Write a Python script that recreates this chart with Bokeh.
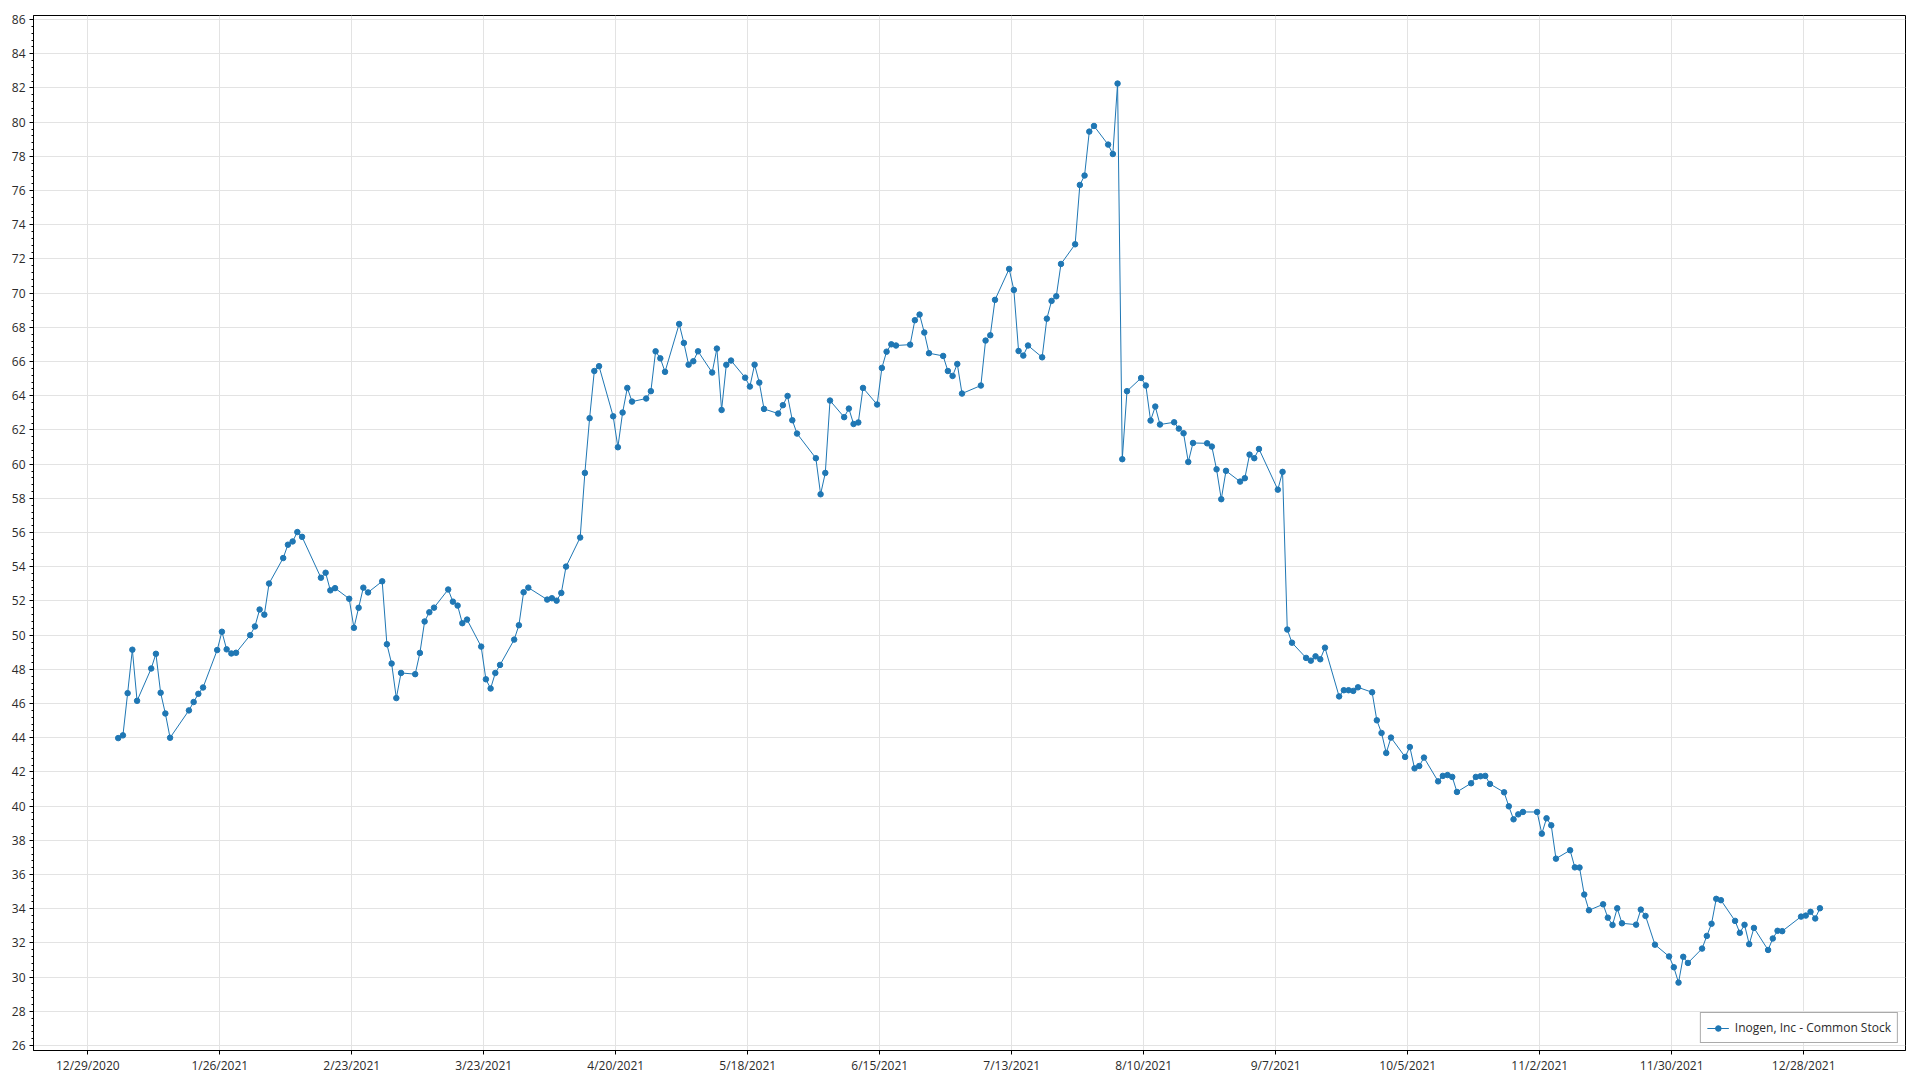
import pandas as pd
from bokeh.plotting import figure
from bokeh.models import FixedTicker, SingleIntervalTicker, Range1d
from bokeh.embed import file_html
from bokeh.resources import INLINE

series_name = "Inogen, Inc - Common Stock"

dates = [
    # January
    "2021-01-04", "2021-01-05", "2021-01-06", "2021-01-07", "2021-01-08",
    "2021-01-11", "2021-01-12", "2021-01-13", "2021-01-14", "2021-01-15",
    "2021-01-19", "2021-01-20", "2021-01-21", "2021-01-22",
    "2021-01-25", "2021-01-26", "2021-01-27", "2021-01-28", "2021-01-29",
    # February
    "2021-02-01", "2021-02-02", "2021-02-03", "2021-02-04", "2021-02-05",
    "2021-02-08", "2021-02-09", "2021-02-10", "2021-02-11", "2021-02-12",
    "2021-02-16", "2021-02-17", "2021-02-18", "2021-02-19",
    "2021-02-22", "2021-02-23", "2021-02-24", "2021-02-25", "2021-02-26",
    # March
    "2021-03-01", "2021-03-02", "2021-03-03", "2021-03-04", "2021-03-05",
    "2021-03-08", "2021-03-09", "2021-03-10", "2021-03-11", "2021-03-12",
    "2021-03-15", "2021-03-16", "2021-03-17", "2021-03-18", "2021-03-19",
    "2021-03-22", "2021-03-23", "2021-03-24", "2021-03-25", "2021-03-26",
    "2021-03-29", "2021-03-30", "2021-03-31",
    # April
    "2021-04-01",
    "2021-04-05", "2021-04-06", "2021-04-07", "2021-04-08", "2021-04-09",
    "2021-04-12", "2021-04-13", "2021-04-14", "2021-04-15", "2021-04-16",
    "2021-04-19", "2021-04-20", "2021-04-21", "2021-04-22", "2021-04-23",
    "2021-04-26", "2021-04-27", "2021-04-28", "2021-04-29", "2021-04-30",
    # May
    "2021-05-03", "2021-05-04", "2021-05-05", "2021-05-06", "2021-05-07",
    "2021-05-10", "2021-05-11", "2021-05-12", "2021-05-13", "2021-05-14",
    "2021-05-17", "2021-05-18", "2021-05-19", "2021-05-20", "2021-05-21",
    "2021-05-24", "2021-05-25", "2021-05-26", "2021-05-27", "2021-05-28",
    # June
    "2021-06-01", "2021-06-02", "2021-06-03", "2021-06-04",
    "2021-06-07", "2021-06-08", "2021-06-09", "2021-06-10", "2021-06-11",
    "2021-06-14", "2021-06-15", "2021-06-16", "2021-06-17", "2021-06-18",
    "2021-06-21", "2021-06-22", "2021-06-23", "2021-06-24", "2021-06-25",
    "2021-06-28", "2021-06-29", "2021-06-30",
    # July
    "2021-07-01", "2021-07-02",
    "2021-07-06", "2021-07-07", "2021-07-08", "2021-07-09",
    "2021-07-12", "2021-07-13", "2021-07-14", "2021-07-15", "2021-07-16",
    "2021-07-19", "2021-07-20", "2021-07-21", "2021-07-22", "2021-07-23",
    "2021-07-26", "2021-07-27", "2021-07-28", "2021-07-29", "2021-07-30",
    # August
    "2021-08-02", "2021-08-03", "2021-08-04", "2021-08-05", "2021-08-06",
    "2021-08-09", "2021-08-10", "2021-08-11", "2021-08-12", "2021-08-13",
    "2021-08-16", "2021-08-17", "2021-08-18", "2021-08-19", "2021-08-20",
    "2021-08-23", "2021-08-24", "2021-08-25", "2021-08-26", "2021-08-27",
    "2021-08-30", "2021-08-31",
    # September
    "2021-09-01", "2021-09-02", "2021-09-03",
    "2021-09-07", "2021-09-08", "2021-09-09", "2021-09-10",
    "2021-09-13", "2021-09-14", "2021-09-15", "2021-09-16", "2021-09-17",
    "2021-09-20", "2021-09-21", "2021-09-22", "2021-09-23", "2021-09-24",
    "2021-09-27", "2021-09-28", "2021-09-29", "2021-09-30",
    # October
    "2021-10-01",
    "2021-10-04", "2021-10-05", "2021-10-06", "2021-10-07", "2021-10-08",
    "2021-10-11", "2021-10-12", "2021-10-13", "2021-10-14", "2021-10-15",
    "2021-10-18", "2021-10-19", "2021-10-20", "2021-10-21", "2021-10-22",
    "2021-10-25", "2021-10-26", "2021-10-27", "2021-10-28", "2021-10-29",
    # November
    "2021-11-01", "2021-11-02", "2021-11-03", "2021-11-04", "2021-11-05",
    "2021-11-08", "2021-11-09", "2021-11-10", "2021-11-11", "2021-11-12",
    "2021-11-15", "2021-11-16", "2021-11-17", "2021-11-18", "2021-11-19",
    "2021-11-22", "2021-11-23", "2021-11-24", "2021-11-26",
    "2021-11-29", "2021-11-30",
    # December
    "2021-12-01", "2021-12-02", "2021-12-03",
    "2021-12-06", "2021-12-07", "2021-12-08", "2021-12-09", "2021-12-10",
    "2021-12-13", "2021-12-14", "2021-12-15", "2021-12-16", "2021-12-17",
    "2021-12-20", "2021-12-21", "2021-12-22", "2021-12-23",
    "2021-12-27", "2021-12-28", "2021-12-29", "2021-12-30", "2021-12-31",
]

close = [
    # January
    43.98, 44.14, 46.61, 49.15, 46.16,
    48.05, 48.91, 46.63, 45.42, 44.00,
    45.60, 46.09, 46.57, 46.94,
    49.13, 50.20, 49.17, 48.93, 48.97,
    # February
    50.00, 50.51, 51.50, 51.20, 53.02,
    54.51, 55.29, 55.48, 56.03, 55.75,
    53.36, 53.65, 52.62, 52.75,
    52.13, 50.43, 51.60, 52.78, 52.50,
    # March
    53.15, 49.47, 48.34, 46.32, 47.79,
    47.72, 48.96, 50.80, 51.34, 51.61,
    52.67, 51.96, 51.73, 50.70, 50.91,
    49.33, 47.42, 46.88, 47.79, 48.26,
    49.74, 50.58, 52.51,
    # April
    52.78,
    52.08, 52.16, 52.02, 52.47, 54.01,
    55.71, 59.49, 62.69, 65.45, 65.73,
    62.80, 60.99, 63.02, 64.46, 63.66,
    63.84, 64.27, 66.60, 66.19, 65.40,
    # May
    68.20, 67.09, 65.82, 66.02, 66.60,
    65.36, 66.76, 63.17, 65.81, 66.06,
    65.06, 64.54, 65.82, 64.77, 63.23,
    62.96, 63.45, 63.99, 62.57, 61.79,
    # June
    60.35, 58.24, 59.49, 63.72,
    62.75, 63.25, 62.35, 62.44, 64.46,
    63.49, 65.63, 66.58, 67.01, 66.94,
    66.99, 68.42, 68.75, 67.70, 66.49,
    66.33, 65.45, 65.16,
    # July
    65.86, 64.13,
    64.60, 67.23, 67.54, 69.61,
    71.42, 70.19, 66.62, 66.35, 66.94,
    66.25, 68.51, 69.55, 69.82, 71.71,
    72.86, 76.33, 76.88, 79.45, 79.78,
    # August
    78.69, 78.14, 82.26, 60.29, 64.27,
    65.04, 64.60, 62.55, 63.37, 62.32,
    62.45, 62.08, 61.81, 60.13, 61.24,
    61.22, 61.03, 59.70, 57.95, 59.61,
    58.98, 59.18,
    # September
    60.56, 60.35, 60.89,
    58.51, 59.55, 50.33, 49.56,
    48.67, 48.51, 48.76, 48.59, 49.27,
    46.42, 46.78, 46.78, 46.74, 46.95,
    46.66, 45.02, 44.28, 43.11,
    # October
    44.01,
    42.88, 43.46, 42.21, 42.35, 42.84,
    41.45, 41.77, 41.82, 41.71, 40.83,
    41.34, 41.71, 41.75, 41.77, 41.30,
    40.81, 39.99, 39.23, 39.52, 39.66,
    # November
    39.66, 38.39, 39.29, 38.88, 36.93,
    37.42, 36.42, 36.41, 34.83, 33.91,
    34.26, 33.48, 33.05, 34.03, 33.15,
    33.07, 33.95, 33.58, 31.90,
    31.21, 30.58,
    # December
    29.68, 31.19, 30.83,
    31.67, 32.41, 33.12, 34.58, 34.50,
    33.29, 32.59, 33.06, 31.93, 32.88,
    31.59, 32.26, 32.71, 32.69,
    33.54, 33.60, 33.82, 33.43, 34.03,
]

tick_labels = ["12/29/2020", "1/26/2021", "2/23/2021", "3/23/2021", "4/20/2021",
               "5/18/2021", "6/15/2021", "7/13/2021", "8/10/2021", "9/7/2021",
               "10/5/2021", "11/2/2021", "11/30/2021", "12/28/2021"]

# x axis measured in days since the first tick date
base = pd.Timestamp(pd.to_datetime(tick_labels[0], format="%m/%d/%Y"))
tick_days = [int((pd.to_datetime(t, format="%m/%d/%Y") - base).days) for t in tick_labels]
point_shift = 0.45  # points sit a little after the date gridlines, as in the source
x = [(pd.Timestamp(d) - base).days + point_shift for d in dates]

FONT = "Open Sans"
TEXT = "#2b2b2b"
BLUE = "#1f77b4"

p = figure(width=1912, height=1076, output_backend="svg", toolbar_location=None,
           x_range=Range1d(-11.52, 385.6), y_range=Range1d(25.71, 86.24),
           min_border_left=33, min_border_right=7, min_border_top=15, min_border_bottom=26,
           background_fill_color="white", border_fill_color="white")

p.line(x, close, line_color=BLUE, line_width=1, legend_label=series_name)
p.scatter(x, close, size=5.5, fill_color=BLUE, line_color=BLUE, legend_label=series_name)

p.outline_line_color = "black"
p.outline_line_width = 1
p.outline_line_alpha = 1

p.xaxis.ticker = FixedTicker(ticks=tick_days)
p.xaxis.major_label_overrides = {d: lab for d, lab in zip(tick_days, tick_labels)}
p.yaxis.ticker = SingleIntervalTicker(interval=2, num_minor_ticks=5)

for ax in (p.xaxis, p.yaxis):
    ax.axis_line_color = "black"
    ax.axis_line_width = 1
    ax.major_tick_line_color = "black"
    ax.major_tick_in = 0
    ax.major_tick_out = 4
    ax.major_label_text_font = FONT
    ax.major_label_text_font_size = "12px"
    ax.major_label_text_color = TEXT

p.xaxis.minor_tick_line_color = None
p.xaxis.major_label_standoff = 2
p.yaxis.minor_tick_line_color = "black"
p.yaxis.minor_tick_in = 0
p.yaxis.minor_tick_out = 2
p.yaxis.major_label_standoff = 4

p.xgrid.ticker = p.xaxis.ticker
p.xgrid.grid_line_color = "#e3e3e3"
p.ygrid.grid_line_color = "#e3e3e3"
p.xgrid.grid_line_width = 1
p.ygrid.grid_line_width = 1

lg = p.legend[0]
lg.location = "bottom_right"
lg.margin = 7
lg.padding = 6
lg.spacing = 0
lg.glyph_width = 22
lg.glyph_height = 14
lg.label_height = 14
lg.label_standoff = 6
lg.label_text_font = FONT
lg.label_text_font_size = "12px"
lg.label_text_color = TEXT
lg.border_line_color = "#555555"
lg.border_line_width = 1.5
lg.background_fill_color = "white"
lg.background_fill_alpha = 1

open("out.html", "w").write(file_html(p, INLINE))
